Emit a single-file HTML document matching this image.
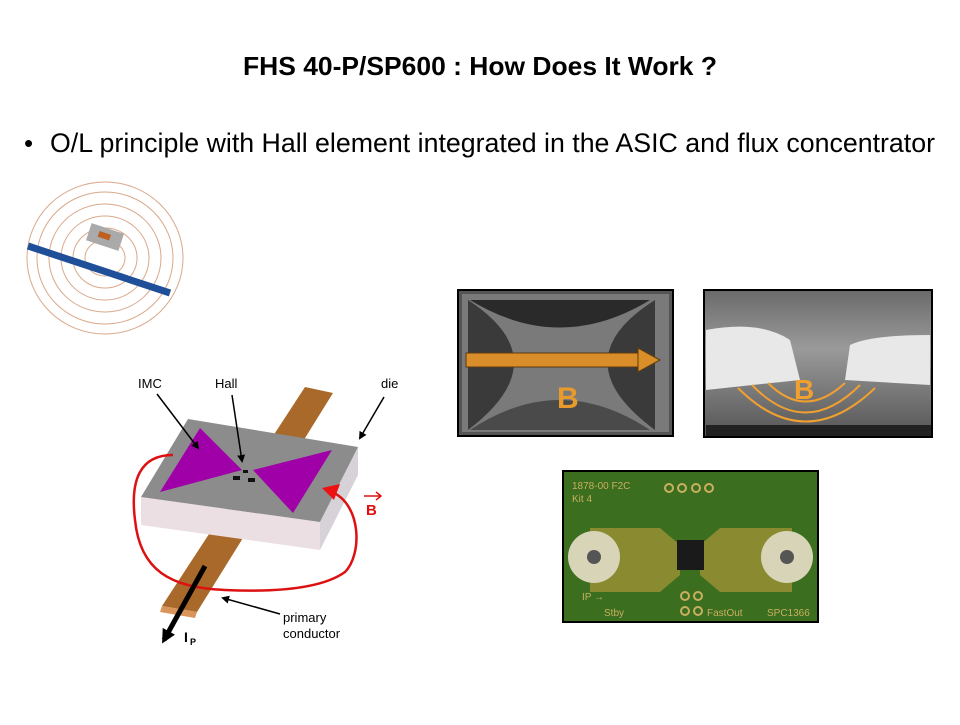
<!DOCTYPE html>
<html><head><meta charset="utf-8"><style>
body{margin:0;background:#fff;width:960px;height:720px;overflow:hidden;font-family:"Liberation Sans",Arial,sans-serif}
</style></head><body>
<svg width="960" height="720" viewBox="0 0 960 720" xmlns="http://www.w3.org/2000/svg" font-family="Liberation Sans, Arial, sans-serif">
<defs>
<marker id="ah" markerWidth="8" markerHeight="8" refX="6" refY="4" orient="auto" markerUnits="userSpaceOnUse"><path d="M0,0 L8,4 L0,8z" fill="#000"/></marker>
<marker id="ahb" markerWidth="14" markerHeight="14" refX="10" refY="7" orient="auto" markerUnits="userSpaceOnUse"><path d="M0,0 L14,7 L0,14z" fill="#000"/></marker>
<linearGradient id="sem" x1="0" y1="0" x2="0" y2="1"><stop offset="0" stop-color="#6a6a6a"/><stop offset="0.4" stop-color="#9a9a9a"/><stop offset="1" stop-color="#555"/></linearGradient>
</defs>
<text x="243" y="75" font-size="26" font-weight="bold" textLength="474" lengthAdjust="spacingAndGlyphs">FHS 40-P/SP600 : How Does It Work ?</text>
<text x="24" y="152" font-size="26">•</text>
<text x="50" y="152" font-size="26.5" textLength="885" lengthAdjust="spacingAndGlyphs">O/L principle with Hall element integrated in the ASIC and flux concentrator</text>

<!-- field lines image -->
<g fill="none" stroke="#d9a88a" stroke-width="1">
<ellipse cx="105" cy="258" rx="20" ry="18"/><ellipse cx="105" cy="258" rx="32" ry="30"/><ellipse cx="105" cy="258" rx="44" ry="42"/><ellipse cx="105" cy="258" rx="56" ry="54"/><ellipse cx="105" cy="258" rx="68" ry="66"/><ellipse cx="105" cy="258" rx="78" ry="76"/>
</g>
<line x1="28" y1="246" x2="170" y2="293" stroke="#1f4f99" stroke-width="7"/>
<rect x="88" y="228" width="34" height="18" fill="#aaa" transform="rotate(18 105 237)"/>
<rect x="98" y="233" width="12" height="6" fill="#c06020" transform="rotate(18 105 237)"/>

<!-- conductor strip -->
<polygon points="305,387 333,393 197,612 162,606" fill="#a8692a"/>
<polygon points="162,606 197,612 195,618 160,612" fill="#d9955a"/>
<!-- die -->
<polygon points="141,497 320,522 320,550 141,525" fill="#ecdfe3"/>
<polygon points="320,522 358,447 358,475 320,550" fill="#d6d2d8"/>
<polygon points="188,419 358,447 320,522 141,497" fill="#8c8c8c"/>
<polygon points="200,428 242,470 160,492" fill="#a000a8"/>
<polygon points="253,470 332,450 293,513" fill="#a000a8"/>
<rect x="233" y="476" width="7" height="4" fill="#111"/><rect x="248" y="478" width="7" height="4" fill="#111"/><rect x="243" y="470" width="5" height="3" fill="#111"/>
<!-- red loop -->
<path d="M173,455 C140,455 130,480 135,520 C140,570 170,588 225,590 C270,592 320,590 345,572 C362,555 362,505 332,492" fill="none" stroke="#d11" stroke-width="2.5"/>
<polygon points="322,488 340,484 334,500" fill="#e11"/>
<text x="366" y="515" font-size="15" font-weight="bold" fill="#d11">B</text>
<path d="M364,496 L380,496 M376,492 L381,496 L376,500" stroke="#d11" stroke-width="1.5" fill="none"/>
<!-- labels -->
<g font-size="13">
<text x="138" y="388">IMC</text><text x="215" y="388">Hall</text><text x="381" y="388">die</text>
<text x="283" y="622">primary</text><text x="283" y="638">conductor</text>
</g>
<g stroke="#000" stroke-width="1.5">
<line x1="157" y1="394" x2="198" y2="448" marker-end="url(#ah)"/>
<line x1="232" y1="395" x2="242" y2="461" marker-end="url(#ah)"/>
<line x1="384" y1="397" x2="360" y2="438" marker-end="url(#ah)"/>
<line x1="280" y1="614" x2="223" y2="598" marker-end="url(#ah)"/>
</g>
<line x1="205" y1="566" x2="164" y2="640" stroke="#000" stroke-width="5" marker-end="url(#ahb)"/>
<text x="184" y="642" font-size="14" font-weight="bold">I</text><text x="190" y="645" font-size="9" font-weight="bold">P</text>

<!-- chip photo -->
<rect x="458" y="290" width="215" height="146" fill="#555" stroke="#000" stroke-width="2"/>
<rect x="462" y="294" width="207" height="138" fill="#7a7a7a"/>
<path d="M468,300 Q560,360 468,430 Z" fill="#3a3a3a"/><path d="M655,300 Q560,360 655,430 Z" fill="#3a3a3a"/>
<path d="M470,300 L650,300 Q560,355 470,300Z" fill="#2a2a2a"/><path d="M470,430 L650,430 Q560,370 470,430Z" fill="#4a4a4a"/>
<rect x="466" y="353" width="175" height="14" fill="#d98e2a" stroke="#5a3a10"/>
<polygon points="638,348 660,360 638,372" fill="#d98e2a" stroke="#5a3a10"/>
<text x="557" y="408" font-size="30" font-weight="bold" fill="#e89a2a">B</text>
<!-- SEM -->
<rect x="704" y="290" width="228" height="147" fill="url(#sem)" stroke="#000" stroke-width="2"/>
<path d="M706,330 Q760,320 790,340 L800,380 L706,390Z" fill="#e8e8e8"/>
<path d="M930,335 Q870,335 850,345 L845,380 L930,385Z" fill="#e8e8e8"/>
<rect x="706" y="425" width="225" height="11" fill="#222"/>
<g fill="none" stroke="#f0a030" stroke-width="2">
<path d="M768,383 Q805,420 845,383"/><path d="M752,385 Q805,440 860,385"/><path d="M738,388 Q805,455 875,388"/>
</g>
<text x="794" y="399" font-size="28" font-weight="bold" fill="#f0a030">B</text>
<!-- PCB -->
<rect x="563" y="471" width="255" height="151" fill="#3b6e1e" stroke="#000" stroke-width="2"/>
<polygon points="590,528 660,528 680,545 680,575 660,592 590,592" fill="#8a8a30"/>
<polygon points="792,528 720,528 700,545 700,575 720,592 792,592" fill="#8a8a30"/>
<circle cx="594" cy="557" r="26" fill="#d8d4b8"/><circle cx="594" cy="557" r="7" fill="#555"/>
<circle cx="787" cy="557" r="26" fill="#d8d4b8"/><circle cx="787" cy="557" r="7" fill="#555"/>
<rect x="677" y="540" width="27" height="30" fill="#1a1a1a"/>
<g fill="none" stroke="#c8b060" stroke-width="2"><circle cx="669" cy="488" r="4"/><circle cx="682" cy="488" r="4"/><circle cx="696" cy="488" r="4"/><circle cx="709" cy="488" r="4"/><circle cx="685" cy="611" r="4"/><circle cx="698" cy="611" r="4"/><circle cx="685" cy="596" r="4"/><circle cx="698" cy="596" r="4"/></g>
<g font-size="10" fill="#c8b060"><text x="572" y="489">1878-00 F2C</text><text x="572" y="502">Kit 4</text><text x="604" y="616">Stby</text><text x="707" y="616">FastOut</text><text x="767" y="616">SPC1366</text><text x="582" y="600">IP →</text></g>
</svg>
</body></html>
